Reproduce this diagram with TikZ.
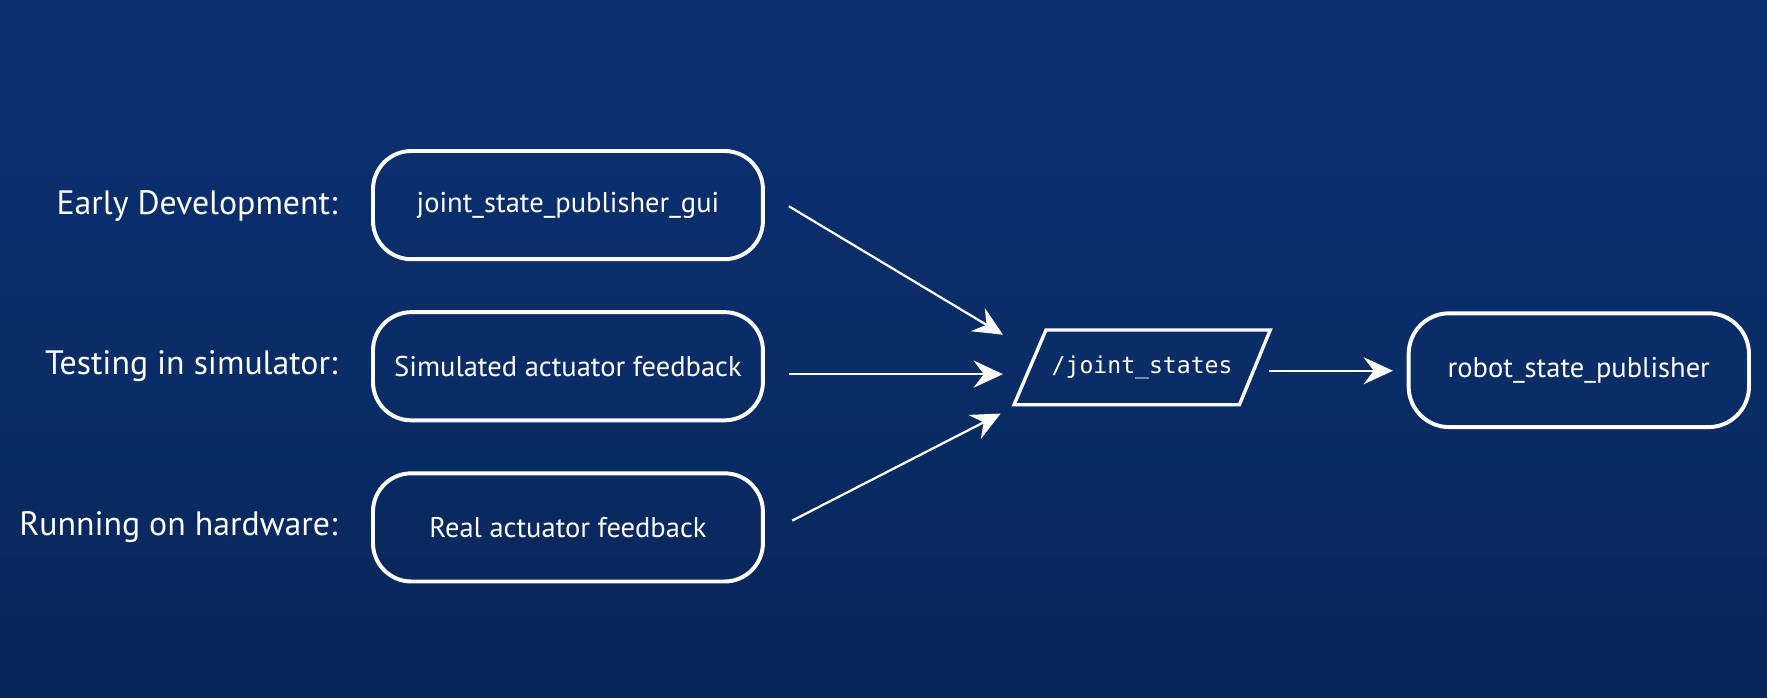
\documentclass[tikz,border=0pt]{standalone}
\usepackage{fontspec}
\setmainfont{PT Sans}
\newfontfamily\monofnt{DejaVu Sans Mono}
\usetikzlibrary{arrows.meta,calc}
\definecolor{bgtop}{HTML}{0B3070}
\definecolor{bgmid}{HTML}{0A2D68}
\definecolor{bgbot}{HTML}{082658}
\definecolor{ink}{HTML}{FFFFFF}
\begin{document}
\begin{tikzpicture}[x=1pt,y=-1pt,
  lbl/.style={anchor=east,text=ink,font=\fontsize{30}{34}\selectfont},
  pill/.style={draw=ink,line width=3.5pt,rounded corners=34pt,text=ink,
     minimum width=346pt,minimum height=96pt,font=\fontsize{25.3}{28}\selectfont},
  flow/.style={draw=ink,line width=2pt,-{Stealth[length=26pt,width=24pt,inset=9pt]}}]
\shade[top color=bgtop,bottom color=bgbot,middle color=bgmid] (0,0) rectangle (1568,619);
\useasboundingbox (0,0) rectangle (1568,619);
% labels
\node[lbl] (l1) at (303,183) {Early Development:};
\node[lbl] (l2) at (303,325) {Testing in simulator:};
\node[lbl] (l3) at (303,468) {Running on hardware:};
% left boxes
\node[pill] (b1) at (504,182) {joint\_state\_publisher\_gui};
\node[pill] (b2) at (504,325) {Simulated actuator feedback};
\node[pill] (b3) at (504,468) {Real actuator feedback};
% topic
\node[minimum width=227pt,minimum height=66pt,inner sep=0pt,text=ink,
      font=\monofnt\fontsize{20.5}{24}\selectfont] (js) at (1013.5,326) {/joint\_states};
\draw[ink,line width=3pt,line join=miter] (js.south west) -- ++(200,0) -- (js.north east) -- ++(-199,0) -- cycle;
% right box
\node[pill,minimum width=302pt,minimum height=101pt,rounded corners=36pt] (rs) at (1401,328.5) {robot\_state\_publisher};
% arrow ends
\coordinate (e1) at (890,297);
\coordinate (e2) at (890,332);
\coordinate (e3) at (888,367);
\coordinate (s1) at (700,183);
\coordinate (s2) at (700,332);
\coordinate (s3) at (703,462);
\coordinate (s4) at (1126,329);
\coordinate (e4) at (1236,329);
\draw[flow] (s1) -- (e1);
\draw[flow] (s2) -- (e2);
\draw[flow] (s3) -- (e3);
\draw[flow] (s4) -- (e4);
\end{tikzpicture}
\end{document}
